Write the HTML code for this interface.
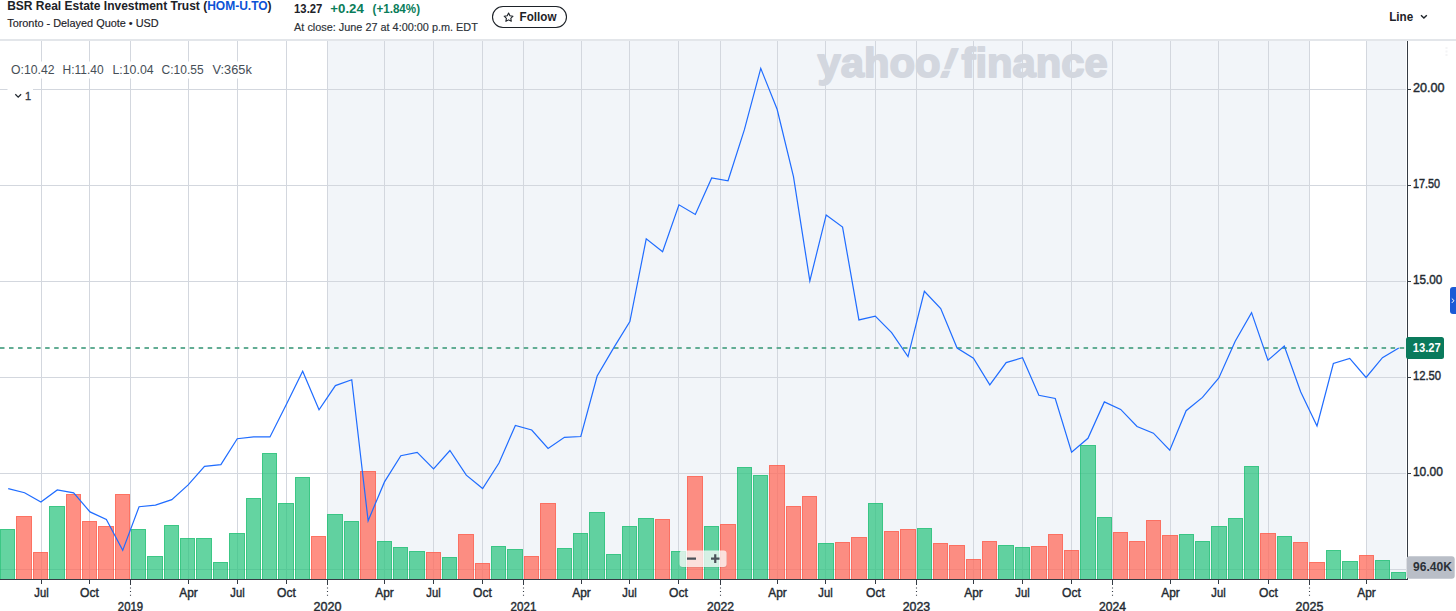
<!DOCTYPE html>
<html><head><meta charset="utf-8"><title>BSR Real Estate Investment Trust (HOM-U.TO)</title>
<style>
html,body{margin:0;padding:0;background:#fff}
body{width:1456px;height:611px;position:relative;overflow:hidden}
svg{position:absolute;left:0;top:0;display:block}
</style></head><body>
<svg width="1456" height="611" viewBox="0 0 1456 611" font-family="'Liberation Sans', Arial, sans-serif">
<text x="7.2" y="9.9" font-size="12" font-weight="700" fill="#1d2228" textLength="264.4" lengthAdjust="spacingAndGlyphs">BSR Real Estate Investment Trust (<tspan fill="#0b53d6">HOM-U.TO</tspan>)</text>
<text x="7.2" y="27" font-size="11" fill="#1d2228" textLength="151.5" lengthAdjust="spacingAndGlyphs" stroke="#1d2228" stroke-width="0.15">Toronto - Delayed Quote • USD</text>
<text x="294.1" y="12.9" font-size="12" font-weight="700" fill="#1d2228" textLength="28.2" lengthAdjust="spacingAndGlyphs">13.27</text>
<text x="330.3" y="13.3" font-size="12" font-weight="700" fill="#0a7d5a" textLength="33.5" lengthAdjust="spacingAndGlyphs">+0.24</text>
<text x="372.6" y="13.3" font-size="12" font-weight="700" fill="#0a7d5a" textLength="47.4" lengthAdjust="spacingAndGlyphs">(+1.84%)</text>
<text x="294.1" y="30.7" font-size="11" fill="#2b3137" textLength="183.7" lengthAdjust="spacingAndGlyphs" stroke="#2b3137" stroke-width="0.15">At close: June 27 at 4:00:00 p.m. EDT</text>
<rect x="492.5" y="6.5" width="74" height="21" rx="10.5" fill="#fff" stroke="#1d2228" stroke-width="1.1"/>
<path d="M508.6 13l1.35 2.75 3.05.42-2.2 2.12.52 3.02-2.72-1.44-2.72 1.44.52-3.02-2.2-2.12 3.05-.42z" fill="none" stroke="#1d2228" stroke-width="1.1" stroke-linejoin="round"/>
<text x="519.6" y="20.7" font-size="12" font-weight="700" fill="#1d2228" textLength="36.9" lengthAdjust="spacingAndGlyphs">Follow</text>
<text x="1389.2" y="20.6" font-size="12.3" font-weight="700" fill="#1d2228" textLength="24" lengthAdjust="spacingAndGlyphs">Line</text>
<path d="M1421 15.2l2.9 2.9 2.9-2.9" fill="none" stroke="#1d2228" stroke-width="1.4"/>
<rect x="0" y="39" width="1456" height="2" fill="#e3e6ea"/>
<rect x="328" y="41" width="981" height="538" fill="#f2f5f9"/>
<rect x="1367" y="41" width="39" height="538" fill="#f2f5f9"/>
<text x="817.6" y="77.3" font-size="40" font-weight="700" fill="#d3d7df" stroke="#d3d7df" stroke-width="1.8" stroke-linejoin="round" textLength="123" lengthAdjust="spacingAndGlyphs">yahoo</text>
<text x="0" y="0" font-size="41" font-weight="700" fill="#d3d7df" stroke="#d3d7df" stroke-width="1.8" stroke-linejoin="round" transform="translate(937.2 77.3) skewX(-21)">!</text>
<text x="961.6" y="77.3" font-size="40" font-weight="700" fill="#d3d7df" stroke="#d3d7df" stroke-width="1.8" stroke-linejoin="round" textLength="146" lengthAdjust="spacingAndGlyphs">finance</text>
<path d="M0 89.5H1406 M0 185.5H1406 M0 281.5H1406 M0 377.5H1406 M0 473.5H1406 M0 569.5H1406 M41.5 41V579 M89.5 41V579 M130.5 41V579 M188.5 41V579 M237.5 41V579 M286.5 41V579 M327.5 41V579 M384.5 41V579 M433.5 41V579 M482.5 41V579 M523.5 41V579 M581.5 41V579 M629.5 41V579 M678.5 41V579 M720.5 41V579 M777.5 41V579 M825.5 41V579 M875.5 41V579 M916.5 41V579 M973.5 41V579 M1022.5 41V579 M1071.5 41V579 M1112.5 41V579 M1170.5 41V579 M1218.5 41V579 M1268.5 41V579 M1309.5 41V579 M1366.5 41V579" stroke="#d3d7de" stroke-width="1" fill="none"/>
<rect x="0" y="529" width="15" height="50" fill="rgba(40,195,125,0.72)"/>
<path d="M0.5 579V529.5H14.5V579" fill="none" stroke="rgba(20,185,105,0.5)" stroke-width="1"/>
<rect x="16" y="516" width="16" height="63" fill="rgba(255,105,90,0.75)"/>
<path d="M16.5 579V516.5H31.5V579" fill="none" stroke="rgba(250,70,50,0.4)" stroke-width="1"/>
<rect x="33" y="552" width="15" height="27" fill="rgba(255,105,90,0.75)"/>
<path d="M33.5 579V552.5H47.5V579" fill="none" stroke="rgba(250,70,50,0.4)" stroke-width="1"/>
<rect x="49" y="506" width="16" height="73" fill="rgba(40,195,125,0.72)"/>
<path d="M49.5 579V506.5H64.5V579" fill="none" stroke="rgba(20,185,105,0.5)" stroke-width="1"/>
<rect x="66" y="494" width="15" height="85" fill="rgba(255,105,90,0.75)"/>
<path d="M66.5 579V494.5H80.5V579" fill="none" stroke="rgba(250,70,50,0.4)" stroke-width="1"/>
<rect x="82" y="521" width="15" height="58" fill="rgba(255,105,90,0.75)"/>
<path d="M82.5 579V521.5H96.5V579" fill="none" stroke="rgba(250,70,50,0.4)" stroke-width="1"/>
<rect x="98" y="526" width="16" height="53" fill="rgba(255,105,90,0.75)"/>
<path d="M98.5 579V526.5H113.5V579" fill="none" stroke="rgba(250,70,50,0.4)" stroke-width="1"/>
<rect x="115" y="494" width="15" height="85" fill="rgba(255,105,90,0.75)"/>
<path d="M115.5 579V494.5H129.5V579" fill="none" stroke="rgba(250,70,50,0.4)" stroke-width="1"/>
<rect x="131" y="529" width="15" height="50" fill="rgba(40,195,125,0.72)"/>
<path d="M131.5 579V529.5H145.5V579" fill="none" stroke="rgba(20,185,105,0.5)" stroke-width="1"/>
<rect x="147" y="556" width="16" height="23" fill="rgba(40,195,125,0.72)"/>
<path d="M147.5 579V556.5H162.5V579" fill="none" stroke="rgba(20,185,105,0.5)" stroke-width="1"/>
<rect x="164" y="525" width="15" height="54" fill="rgba(40,195,125,0.72)"/>
<path d="M164.5 579V525.5H178.5V579" fill="none" stroke="rgba(20,185,105,0.5)" stroke-width="1"/>
<rect x="180" y="538" width="15" height="41" fill="rgba(40,195,125,0.72)"/>
<path d="M180.5 579V538.5H194.5V579" fill="none" stroke="rgba(20,185,105,0.5)" stroke-width="1"/>
<rect x="196" y="538" width="16" height="41" fill="rgba(40,195,125,0.72)"/>
<path d="M196.5 579V538.5H211.5V579" fill="none" stroke="rgba(20,185,105,0.5)" stroke-width="1"/>
<rect x="213" y="562" width="15" height="17" fill="rgba(40,195,125,0.72)"/>
<path d="M213.5 579V562.5H227.5V579" fill="none" stroke="rgba(20,185,105,0.5)" stroke-width="1"/>
<rect x="229" y="533" width="16" height="46" fill="rgba(40,195,125,0.72)"/>
<path d="M229.5 579V533.5H244.5V579" fill="none" stroke="rgba(20,185,105,0.5)" stroke-width="1"/>
<rect x="246" y="498" width="15" height="81" fill="rgba(40,195,125,0.72)"/>
<path d="M246.5 579V498.5H260.5V579" fill="none" stroke="rgba(20,185,105,0.5)" stroke-width="1"/>
<rect x="262" y="453" width="15" height="126" fill="rgba(40,195,125,0.72)"/>
<path d="M262.5 579V453.5H276.5V579" fill="none" stroke="rgba(20,185,105,0.5)" stroke-width="1"/>
<rect x="278" y="503" width="16" height="76" fill="rgba(40,195,125,0.72)"/>
<path d="M278.5 579V503.5H293.5V579" fill="none" stroke="rgba(20,185,105,0.5)" stroke-width="1"/>
<rect x="295" y="477" width="15" height="102" fill="rgba(40,195,125,0.72)"/>
<path d="M295.5 579V477.5H309.5V579" fill="none" stroke="rgba(20,185,105,0.5)" stroke-width="1"/>
<rect x="311" y="536" width="15" height="43" fill="rgba(255,105,90,0.75)"/>
<path d="M311.5 579V536.5H325.5V579" fill="none" stroke="rgba(250,70,50,0.4)" stroke-width="1"/>
<rect x="327" y="514" width="16" height="65" fill="rgba(40,195,125,0.72)"/>
<path d="M327.5 579V514.5H342.5V579" fill="none" stroke="rgba(20,185,105,0.5)" stroke-width="1"/>
<rect x="344" y="521" width="15" height="58" fill="rgba(40,195,125,0.72)"/>
<path d="M344.5 579V521.5H358.5V579" fill="none" stroke="rgba(20,185,105,0.5)" stroke-width="1"/>
<rect x="360" y="471" width="16" height="108" fill="rgba(255,105,90,0.75)"/>
<path d="M360.5 579V471.5H375.5V579" fill="none" stroke="rgba(250,70,50,0.4)" stroke-width="1"/>
<rect x="377" y="541" width="15" height="38" fill="rgba(40,195,125,0.72)"/>
<path d="M377.5 579V541.5H391.5V579" fill="none" stroke="rgba(20,185,105,0.5)" stroke-width="1"/>
<rect x="393" y="547" width="15" height="32" fill="rgba(40,195,125,0.72)"/>
<path d="M393.5 579V547.5H407.5V579" fill="none" stroke="rgba(20,185,105,0.5)" stroke-width="1"/>
<rect x="409" y="551" width="16" height="28" fill="rgba(40,195,125,0.72)"/>
<path d="M409.5 579V551.5H424.5V579" fill="none" stroke="rgba(20,185,105,0.5)" stroke-width="1"/>
<rect x="426" y="552" width="15" height="27" fill="rgba(255,105,90,0.75)"/>
<path d="M426.5 579V552.5H440.5V579" fill="none" stroke="rgba(250,70,50,0.4)" stroke-width="1"/>
<rect x="442" y="557" width="15" height="22" fill="rgba(40,195,125,0.72)"/>
<path d="M442.5 579V557.5H456.5V579" fill="none" stroke="rgba(20,185,105,0.5)" stroke-width="1"/>
<rect x="458" y="534" width="16" height="45" fill="rgba(255,105,90,0.75)"/>
<path d="M458.5 579V534.5H473.5V579" fill="none" stroke="rgba(250,70,50,0.4)" stroke-width="1"/>
<rect x="475" y="563" width="15" height="16" fill="rgba(255,105,90,0.75)"/>
<path d="M475.5 579V563.5H489.5V579" fill="none" stroke="rgba(250,70,50,0.4)" stroke-width="1"/>
<rect x="491" y="546" width="15" height="33" fill="rgba(40,195,125,0.72)"/>
<path d="M491.5 579V546.5H505.5V579" fill="none" stroke="rgba(20,185,105,0.5)" stroke-width="1"/>
<rect x="507" y="549" width="16" height="30" fill="rgba(40,195,125,0.72)"/>
<path d="M507.5 579V549.5H522.5V579" fill="none" stroke="rgba(20,185,105,0.5)" stroke-width="1"/>
<rect x="524" y="556" width="15" height="23" fill="rgba(255,105,90,0.75)"/>
<path d="M524.5 579V556.5H538.5V579" fill="none" stroke="rgba(250,70,50,0.4)" stroke-width="1"/>
<rect x="540" y="503" width="16" height="76" fill="rgba(255,105,90,0.75)"/>
<path d="M540.5 579V503.5H555.5V579" fill="none" stroke="rgba(250,70,50,0.4)" stroke-width="1"/>
<rect x="557" y="548" width="15" height="31" fill="rgba(40,195,125,0.72)"/>
<path d="M557.5 579V548.5H571.5V579" fill="none" stroke="rgba(20,185,105,0.5)" stroke-width="1"/>
<rect x="573" y="533" width="15" height="46" fill="rgba(40,195,125,0.72)"/>
<path d="M573.5 579V533.5H587.5V579" fill="none" stroke="rgba(20,185,105,0.5)" stroke-width="1"/>
<rect x="589" y="512" width="16" height="67" fill="rgba(40,195,125,0.72)"/>
<path d="M589.5 579V512.5H604.5V579" fill="none" stroke="rgba(20,185,105,0.5)" stroke-width="1"/>
<rect x="606" y="554" width="15" height="25" fill="rgba(40,195,125,0.72)"/>
<path d="M606.5 579V554.5H620.5V579" fill="none" stroke="rgba(20,185,105,0.5)" stroke-width="1"/>
<rect x="622" y="526" width="15" height="53" fill="rgba(40,195,125,0.72)"/>
<path d="M622.5 579V526.5H636.5V579" fill="none" stroke="rgba(20,185,105,0.5)" stroke-width="1"/>
<rect x="638" y="518" width="16" height="61" fill="rgba(40,195,125,0.72)"/>
<path d="M638.5 579V518.5H653.5V579" fill="none" stroke="rgba(20,185,105,0.5)" stroke-width="1"/>
<rect x="655" y="519" width="15" height="60" fill="rgba(255,105,90,0.75)"/>
<path d="M655.5 579V519.5H669.5V579" fill="none" stroke="rgba(250,70,50,0.4)" stroke-width="1"/>
<rect x="671" y="551" width="15" height="28" fill="rgba(40,195,125,0.72)"/>
<path d="M671.5 579V551.5H685.5V579" fill="none" stroke="rgba(20,185,105,0.5)" stroke-width="1"/>
<rect x="687" y="476" width="16" height="103" fill="rgba(255,105,90,0.75)"/>
<path d="M687.5 579V476.5H702.5V579" fill="none" stroke="rgba(250,70,50,0.4)" stroke-width="1"/>
<rect x="704" y="526" width="15" height="53" fill="rgba(40,195,125,0.72)"/>
<path d="M704.5 579V526.5H718.5V579" fill="none" stroke="rgba(20,185,105,0.5)" stroke-width="1"/>
<rect x="720" y="524" width="16" height="55" fill="rgba(255,105,90,0.75)"/>
<path d="M720.5 579V524.5H735.5V579" fill="none" stroke="rgba(250,70,50,0.4)" stroke-width="1"/>
<rect x="737" y="467" width="15" height="112" fill="rgba(40,195,125,0.72)"/>
<path d="M737.5 579V467.5H751.5V579" fill="none" stroke="rgba(20,185,105,0.5)" stroke-width="1"/>
<rect x="753" y="475" width="15" height="104" fill="rgba(40,195,125,0.72)"/>
<path d="M753.5 579V475.5H767.5V579" fill="none" stroke="rgba(20,185,105,0.5)" stroke-width="1"/>
<rect x="769" y="465" width="16" height="114" fill="rgba(255,105,90,0.75)"/>
<path d="M769.5 579V465.5H784.5V579" fill="none" stroke="rgba(250,70,50,0.4)" stroke-width="1"/>
<rect x="786" y="506" width="15" height="73" fill="rgba(255,105,90,0.75)"/>
<path d="M786.5 579V506.5H800.5V579" fill="none" stroke="rgba(250,70,50,0.4)" stroke-width="1"/>
<rect x="802" y="496" width="15" height="83" fill="rgba(255,105,90,0.75)"/>
<path d="M802.5 579V496.5H816.5V579" fill="none" stroke="rgba(250,70,50,0.4)" stroke-width="1"/>
<rect x="818" y="543" width="16" height="36" fill="rgba(40,195,125,0.72)"/>
<path d="M818.5 579V543.5H833.5V579" fill="none" stroke="rgba(20,185,105,0.5)" stroke-width="1"/>
<rect x="835" y="542" width="15" height="37" fill="rgba(255,105,90,0.75)"/>
<path d="M835.5 579V542.5H849.5V579" fill="none" stroke="rgba(250,70,50,0.4)" stroke-width="1"/>
<rect x="851" y="537" width="16" height="42" fill="rgba(255,105,90,0.75)"/>
<path d="M851.5 579V537.5H866.5V579" fill="none" stroke="rgba(250,70,50,0.4)" stroke-width="1"/>
<rect x="868" y="503" width="15" height="76" fill="rgba(40,195,125,0.72)"/>
<path d="M868.5 579V503.5H882.5V579" fill="none" stroke="rgba(20,185,105,0.5)" stroke-width="1"/>
<rect x="884" y="531" width="15" height="48" fill="rgba(255,105,90,0.75)"/>
<path d="M884.5 579V531.5H898.5V579" fill="none" stroke="rgba(250,70,50,0.4)" stroke-width="1"/>
<rect x="900" y="529" width="16" height="50" fill="rgba(255,105,90,0.75)"/>
<path d="M900.5 579V529.5H915.5V579" fill="none" stroke="rgba(250,70,50,0.4)" stroke-width="1"/>
<rect x="917" y="528" width="15" height="51" fill="rgba(40,195,125,0.72)"/>
<path d="M917.5 579V528.5H931.5V579" fill="none" stroke="rgba(20,185,105,0.5)" stroke-width="1"/>
<rect x="933" y="543" width="15" height="36" fill="rgba(255,105,90,0.75)"/>
<path d="M933.5 579V543.5H947.5V579" fill="none" stroke="rgba(250,70,50,0.4)" stroke-width="1"/>
<rect x="949" y="545" width="16" height="34" fill="rgba(255,105,90,0.75)"/>
<path d="M949.5 579V545.5H964.5V579" fill="none" stroke="rgba(250,70,50,0.4)" stroke-width="1"/>
<rect x="966" y="559" width="15" height="20" fill="rgba(255,105,90,0.75)"/>
<path d="M966.5 579V559.5H980.5V579" fill="none" stroke="rgba(250,70,50,0.4)" stroke-width="1"/>
<rect x="982" y="541" width="15" height="38" fill="rgba(255,105,90,0.75)"/>
<path d="M982.5 579V541.5H996.5V579" fill="none" stroke="rgba(250,70,50,0.4)" stroke-width="1"/>
<rect x="998" y="545" width="16" height="34" fill="rgba(40,195,125,0.72)"/>
<path d="M998.5 579V545.5H1013.5V579" fill="none" stroke="rgba(20,185,105,0.5)" stroke-width="1"/>
<rect x="1015" y="547" width="15" height="32" fill="rgba(40,195,125,0.72)"/>
<path d="M1015.5 579V547.5H1029.5V579" fill="none" stroke="rgba(20,185,105,0.5)" stroke-width="1"/>
<rect x="1031" y="546" width="16" height="33" fill="rgba(255,105,90,0.75)"/>
<path d="M1031.5 579V546.5H1046.5V579" fill="none" stroke="rgba(250,70,50,0.4)" stroke-width="1"/>
<rect x="1048" y="534" width="15" height="45" fill="rgba(255,105,90,0.75)"/>
<path d="M1048.5 579V534.5H1062.5V579" fill="none" stroke="rgba(250,70,50,0.4)" stroke-width="1"/>
<rect x="1064" y="550" width="15" height="29" fill="rgba(255,105,90,0.75)"/>
<path d="M1064.5 579V550.5H1078.5V579" fill="none" stroke="rgba(250,70,50,0.4)" stroke-width="1"/>
<rect x="1080" y="445" width="16" height="134" fill="rgba(40,195,125,0.72)"/>
<path d="M1080.5 579V445.5H1095.5V579" fill="none" stroke="rgba(20,185,105,0.5)" stroke-width="1"/>
<rect x="1097" y="517" width="15" height="62" fill="rgba(40,195,125,0.72)"/>
<path d="M1097.5 579V517.5H1111.5V579" fill="none" stroke="rgba(20,185,105,0.5)" stroke-width="1"/>
<rect x="1113" y="532" width="15" height="47" fill="rgba(255,105,90,0.75)"/>
<path d="M1113.5 579V532.5H1127.5V579" fill="none" stroke="rgba(250,70,50,0.4)" stroke-width="1"/>
<rect x="1129" y="541" width="16" height="38" fill="rgba(255,105,90,0.75)"/>
<path d="M1129.5 579V541.5H1144.5V579" fill="none" stroke="rgba(250,70,50,0.4)" stroke-width="1"/>
<rect x="1146" y="520" width="15" height="59" fill="rgba(255,105,90,0.75)"/>
<path d="M1146.5 579V520.5H1160.5V579" fill="none" stroke="rgba(250,70,50,0.4)" stroke-width="1"/>
<rect x="1162" y="535" width="16" height="44" fill="rgba(255,105,90,0.75)"/>
<path d="M1162.5 579V535.5H1177.5V579" fill="none" stroke="rgba(250,70,50,0.4)" stroke-width="1"/>
<rect x="1179" y="534" width="15" height="45" fill="rgba(40,195,125,0.72)"/>
<path d="M1179.5 579V534.5H1193.5V579" fill="none" stroke="rgba(20,185,105,0.5)" stroke-width="1"/>
<rect x="1195" y="541" width="15" height="38" fill="rgba(40,195,125,0.72)"/>
<path d="M1195.5 579V541.5H1209.5V579" fill="none" stroke="rgba(20,185,105,0.5)" stroke-width="1"/>
<rect x="1211" y="526" width="16" height="53" fill="rgba(40,195,125,0.72)"/>
<path d="M1211.5 579V526.5H1226.5V579" fill="none" stroke="rgba(20,185,105,0.5)" stroke-width="1"/>
<rect x="1228" y="518" width="15" height="61" fill="rgba(40,195,125,0.72)"/>
<path d="M1228.5 579V518.5H1242.5V579" fill="none" stroke="rgba(20,185,105,0.5)" stroke-width="1"/>
<rect x="1244" y="466" width="15" height="113" fill="rgba(40,195,125,0.72)"/>
<path d="M1244.5 579V466.5H1258.5V579" fill="none" stroke="rgba(20,185,105,0.5)" stroke-width="1"/>
<rect x="1260" y="533" width="16" height="46" fill="rgba(255,105,90,0.75)"/>
<path d="M1260.5 579V533.5H1275.5V579" fill="none" stroke="rgba(250,70,50,0.4)" stroke-width="1"/>
<rect x="1277" y="536" width="15" height="43" fill="rgba(40,195,125,0.72)"/>
<path d="M1277.5 579V536.5H1291.5V579" fill="none" stroke="rgba(20,185,105,0.5)" stroke-width="1"/>
<rect x="1293" y="542" width="15" height="37" fill="rgba(255,105,90,0.75)"/>
<path d="M1293.5 579V542.5H1307.5V579" fill="none" stroke="rgba(250,70,50,0.4)" stroke-width="1"/>
<rect x="1309" y="562" width="16" height="17" fill="rgba(255,105,90,0.75)"/>
<path d="M1309.5 579V562.5H1324.5V579" fill="none" stroke="rgba(250,70,50,0.4)" stroke-width="1"/>
<rect x="1326" y="550" width="15" height="29" fill="rgba(40,195,125,0.72)"/>
<path d="M1326.5 579V550.5H1340.5V579" fill="none" stroke="rgba(20,185,105,0.5)" stroke-width="1"/>
<rect x="1342" y="561" width="16" height="18" fill="rgba(40,195,125,0.72)"/>
<path d="M1342.5 579V561.5H1357.5V579" fill="none" stroke="rgba(20,185,105,0.5)" stroke-width="1"/>
<rect x="1359" y="555" width="15" height="24" fill="rgba(255,105,90,0.75)"/>
<path d="M1359.5 579V555.5H1373.5V579" fill="none" stroke="rgba(250,70,50,0.4)" stroke-width="1"/>
<rect x="1375" y="560" width="15" height="19" fill="rgba(40,195,125,0.72)"/>
<path d="M1375.5 579V560.5H1389.5V579" fill="none" stroke="rgba(20,185,105,0.5)" stroke-width="1"/>
<rect x="1391" y="572" width="15" height="7" fill="rgba(40,195,125,0.72)"/>
<path d="M1391.5 579V572.5H1405.5V579" fill="none" stroke="rgba(20,185,105,0.5)" stroke-width="1"/>
<path d="M0 348H1405" stroke="#62ad94" stroke-width="2" stroke-dasharray="4.5 4.53" fill="none"/>
<polyline points="8.20,488.6 24.56,492.7 40.92,502.1 57.28,489.9 73.64,492.9 90.00,511.9 106.36,519.5 122.72,550.4 139.08,506.7 155.44,505.1 171.80,499.6 188.16,484.9 204.52,466.4 220.88,464.6 237.24,438.7 253.60,436.9 269.96,436.9 286.32,404.5 302.68,371.2 319.04,409.8 335.40,385.6 351.76,379.7 368.12,520.8 384.48,481.9 400.84,455.7 417.20,452.4 433.56,468.8 449.92,450.5 466.28,475.2 482.64,488.5 499.00,463 515.36,425.4 531.72,430 548.08,448.5 564.44,437.3 580.80,436.5 597.16,376 613.52,348.1 629.88,321.6 646.24,238.8 662.60,251.7 678.96,204.8 695.32,214.4 711.68,177.9 728.04,180.8 744.40,129.7 760.76,68.4 777.12,109.3 793.48,176.7 809.84,280.9 826.20,214.9 842.56,227.1 858.92,319.9 875.28,316.1 891.64,332.6 908.00,356.6 924.36,291.3 940.72,308.5 957.08,348 973.44,358.3 989.80,384.9 1006.16,362.6 1022.52,357.7 1038.88,395.3 1055.24,398.5 1071.60,452.1 1087.96,438.3 1104.32,401.9 1120.68,409.4 1137.04,426.5 1153.40,433.2 1169.76,450.2 1186.12,410.7 1202.48,397.4 1218.84,377.9 1235.20,341.2 1251.56,312.6 1267.92,360.3 1284.28,346.1 1300.64,391.7 1317.00,426 1333.36,363.5 1349.72,358.4 1366.08,377.5 1382.44,357.7 1398.80,348.1" fill="none" stroke="#1f6cff" stroke-width="1.2" stroke-linejoin="miter" stroke-miterlimit="6"/>
<rect x="6" y="61.5" width="251" height="17" fill="#fff"/>
<text x="11.1" y="74.2" font-size="12" fill="#464e56" textLength="43.4" lengthAdjust="spacingAndGlyphs">O:10.42</text>
<text x="62.5" y="74.2" font-size="12" fill="#464e56" textLength="41.1" lengthAdjust="spacingAndGlyphs">H:11.40</text>
<text x="112.5" y="74.2" font-size="12" fill="#464e56" textLength="41.1" lengthAdjust="spacingAndGlyphs">L:10.04</text>
<text x="161.6" y="74.2" font-size="12" fill="#464e56" textLength="42.0" lengthAdjust="spacingAndGlyphs">C:10.55</text>
<text x="212.5" y="74.2" font-size="12" fill="#464e56" textLength="39.3" lengthAdjust="spacingAndGlyphs">V:365k</text>
<rect x="7.5" y="83" width="25.5" height="17" fill="#fff"/>
<path d="M15.3 94.3l2.9 2.9 2.9-2.9" fill="none" stroke="#232a31" stroke-width="1.3"/>
<text x="24.9" y="99.7" font-size="11" fill="#30373e" stroke="#30373e" stroke-width="0.3">1</text>
<path d="M1407.5 41V580M0 579.5H1408" stroke="#343b44" stroke-width="1" fill="none"/>
<path d="M1408 89.5H1411" stroke="#343b44" stroke-width="1"/>
<text x="1412.9" y="92.1" font-size="12" fill="#232a31" textLength="31.6" lengthAdjust="spacingAndGlyphs" stroke="#232a31" stroke-width="0.4">20.00</text>
<path d="M1408 185.5H1411" stroke="#343b44" stroke-width="1"/>
<text x="1412.9" y="188.1" font-size="12" fill="#232a31" textLength="27.1" lengthAdjust="spacingAndGlyphs" stroke="#232a31" stroke-width="0.4">17.50</text>
<path d="M1408 281.5H1411" stroke="#343b44" stroke-width="1"/>
<text x="1412.9" y="284.1" font-size="12" fill="#232a31" textLength="29.4" lengthAdjust="spacingAndGlyphs" stroke="#232a31" stroke-width="0.4">15.00</text>
<path d="M1408 377.5H1411" stroke="#343b44" stroke-width="1"/>
<text x="1412.9" y="380.1" font-size="12" fill="#232a31" textLength="28.2" lengthAdjust="spacingAndGlyphs" stroke="#232a31" stroke-width="0.4">12.50</text>
<path d="M1408 473.5H1411" stroke="#343b44" stroke-width="1"/>
<text x="1412.9" y="476.1" font-size="12" fill="#232a31" textLength="30.1" lengthAdjust="spacingAndGlyphs" stroke="#232a31" stroke-width="0.4">10.00</text>
<path d="M41.5 580V584" stroke="#343b44" stroke-width="1"/>
<text x="41.5" y="596.7" font-size="12" fill="#232a31" text-anchor="middle" textLength="14.3" lengthAdjust="spacingAndGlyphs" stroke="#232a31" stroke-width="0.4">Jul</text>
<path d="M89.5 580V584" stroke="#343b44" stroke-width="1"/>
<text x="89.5" y="596.7" font-size="12" fill="#232a31" text-anchor="middle" textLength="18.8" lengthAdjust="spacingAndGlyphs" stroke="#232a31" stroke-width="0.4">Oct</text>
<path d="M130.5 580V585" stroke="#343b44" stroke-width="1"/>
<path d="M130.5 587.5V596" stroke="#343b44" stroke-width="1.1" stroke-dasharray="1 2.6"/>
<text x="130.5" y="610.8" font-size="12" fill="#232a31" text-anchor="middle" textLength="25.3" lengthAdjust="spacingAndGlyphs" stroke="#232a31" stroke-width="0.4">2019</text>
<path d="M188.5 580V584" stroke="#343b44" stroke-width="1"/>
<text x="188.5" y="596.7" font-size="12" fill="#232a31" text-anchor="middle" textLength="18.5" lengthAdjust="spacingAndGlyphs" stroke="#232a31" stroke-width="0.4">Apr</text>
<path d="M237.5 580V584" stroke="#343b44" stroke-width="1"/>
<text x="237.5" y="596.7" font-size="12" fill="#232a31" text-anchor="middle" textLength="14.3" lengthAdjust="spacingAndGlyphs" stroke="#232a31" stroke-width="0.4">Jul</text>
<path d="M286.5 580V584" stroke="#343b44" stroke-width="1"/>
<text x="286.5" y="596.7" font-size="12" fill="#232a31" text-anchor="middle" textLength="18.8" lengthAdjust="spacingAndGlyphs" stroke="#232a31" stroke-width="0.4">Oct</text>
<path d="M327.5 580V585" stroke="#343b44" stroke-width="1"/>
<path d="M327.5 587.5V596" stroke="#343b44" stroke-width="1.1" stroke-dasharray="1 2.6"/>
<text x="327.5" y="610.8" font-size="12" fill="#232a31" text-anchor="middle" textLength="28.0" lengthAdjust="spacingAndGlyphs" stroke="#232a31" stroke-width="0.4">2020</text>
<path d="M384.5 580V584" stroke="#343b44" stroke-width="1"/>
<text x="384.5" y="596.7" font-size="12" fill="#232a31" text-anchor="middle" textLength="18.5" lengthAdjust="spacingAndGlyphs" stroke="#232a31" stroke-width="0.4">Apr</text>
<path d="M433.5 580V584" stroke="#343b44" stroke-width="1"/>
<text x="433.5" y="596.7" font-size="12" fill="#232a31" text-anchor="middle" textLength="14.3" lengthAdjust="spacingAndGlyphs" stroke="#232a31" stroke-width="0.4">Jul</text>
<path d="M482.5 580V584" stroke="#343b44" stroke-width="1"/>
<text x="482.5" y="596.7" font-size="12" fill="#232a31" text-anchor="middle" textLength="18.8" lengthAdjust="spacingAndGlyphs" stroke="#232a31" stroke-width="0.4">Oct</text>
<path d="M523.5 580V585" stroke="#343b44" stroke-width="1"/>
<path d="M523.5 587.5V596" stroke="#343b44" stroke-width="1.1" stroke-dasharray="1 2.6"/>
<text x="523.5" y="610.8" font-size="12" fill="#232a31" text-anchor="middle" textLength="25.8" lengthAdjust="spacingAndGlyphs" stroke="#232a31" stroke-width="0.4">2021</text>
<path d="M581.5 580V584" stroke="#343b44" stroke-width="1"/>
<text x="581.5" y="596.7" font-size="12" fill="#232a31" text-anchor="middle" textLength="18.5" lengthAdjust="spacingAndGlyphs" stroke="#232a31" stroke-width="0.4">Apr</text>
<path d="M629.5 580V584" stroke="#343b44" stroke-width="1"/>
<text x="629.5" y="596.7" font-size="12" fill="#232a31" text-anchor="middle" textLength="14.3" lengthAdjust="spacingAndGlyphs" stroke="#232a31" stroke-width="0.4">Jul</text>
<path d="M678.5 580V584" stroke="#343b44" stroke-width="1"/>
<text x="678.5" y="596.7" font-size="12" fill="#232a31" text-anchor="middle" textLength="18.8" lengthAdjust="spacingAndGlyphs" stroke="#232a31" stroke-width="0.4">Oct</text>
<path d="M720.5 580V585" stroke="#343b44" stroke-width="1"/>
<path d="M720.5 587.5V596" stroke="#343b44" stroke-width="1.1" stroke-dasharray="1 2.6"/>
<text x="720.5" y="610.8" font-size="12" fill="#232a31" text-anchor="middle" textLength="27.0" lengthAdjust="spacingAndGlyphs" stroke="#232a31" stroke-width="0.4">2022</text>
<path d="M777.5 580V584" stroke="#343b44" stroke-width="1"/>
<text x="777.5" y="596.7" font-size="12" fill="#232a31" text-anchor="middle" textLength="18.5" lengthAdjust="spacingAndGlyphs" stroke="#232a31" stroke-width="0.4">Apr</text>
<path d="M825.5 580V584" stroke="#343b44" stroke-width="1"/>
<text x="825.5" y="596.7" font-size="12" fill="#232a31" text-anchor="middle" textLength="14.3" lengthAdjust="spacingAndGlyphs" stroke="#232a31" stroke-width="0.4">Jul</text>
<path d="M875.5 580V584" stroke="#343b44" stroke-width="1"/>
<text x="875.5" y="596.7" font-size="12" fill="#232a31" text-anchor="middle" textLength="18.8" lengthAdjust="spacingAndGlyphs" stroke="#232a31" stroke-width="0.4">Oct</text>
<path d="M916.5 580V585" stroke="#343b44" stroke-width="1"/>
<path d="M916.5 587.5V596" stroke="#343b44" stroke-width="1.1" stroke-dasharray="1 2.6"/>
<text x="916.5" y="610.8" font-size="12" fill="#232a31" text-anchor="middle" textLength="27.5" lengthAdjust="spacingAndGlyphs" stroke="#232a31" stroke-width="0.4">2023</text>
<path d="M973.5 580V584" stroke="#343b44" stroke-width="1"/>
<text x="973.5" y="596.7" font-size="12" fill="#232a31" text-anchor="middle" textLength="18.5" lengthAdjust="spacingAndGlyphs" stroke="#232a31" stroke-width="0.4">Apr</text>
<path d="M1022.5 580V584" stroke="#343b44" stroke-width="1"/>
<text x="1022.5" y="596.7" font-size="12" fill="#232a31" text-anchor="middle" textLength="14.3" lengthAdjust="spacingAndGlyphs" stroke="#232a31" stroke-width="0.4">Jul</text>
<path d="M1071.5 580V584" stroke="#343b44" stroke-width="1"/>
<text x="1071.5" y="596.7" font-size="12" fill="#232a31" text-anchor="middle" textLength="18.8" lengthAdjust="spacingAndGlyphs" stroke="#232a31" stroke-width="0.4">Oct</text>
<path d="M1112.5 580V585" stroke="#343b44" stroke-width="1"/>
<path d="M1112.5 587.5V596" stroke="#343b44" stroke-width="1.1" stroke-dasharray="1 2.6"/>
<text x="1112.5" y="610.8" font-size="12" fill="#232a31" text-anchor="middle" textLength="27.0" lengthAdjust="spacingAndGlyphs" stroke="#232a31" stroke-width="0.4">2024</text>
<path d="M1170.5 580V584" stroke="#343b44" stroke-width="1"/>
<text x="1170.5" y="596.7" font-size="12" fill="#232a31" text-anchor="middle" textLength="18.5" lengthAdjust="spacingAndGlyphs" stroke="#232a31" stroke-width="0.4">Apr</text>
<path d="M1218.5 580V584" stroke="#343b44" stroke-width="1"/>
<text x="1218.5" y="596.7" font-size="12" fill="#232a31" text-anchor="middle" textLength="14.3" lengthAdjust="spacingAndGlyphs" stroke="#232a31" stroke-width="0.4">Jul</text>
<path d="M1268.5 580V584" stroke="#343b44" stroke-width="1"/>
<text x="1268.5" y="596.7" font-size="12" fill="#232a31" text-anchor="middle" textLength="18.8" lengthAdjust="spacingAndGlyphs" stroke="#232a31" stroke-width="0.4">Oct</text>
<path d="M1309.5 580V585" stroke="#343b44" stroke-width="1"/>
<path d="M1309.5 587.5V596" stroke="#343b44" stroke-width="1.1" stroke-dasharray="1 2.6"/>
<text x="1309.5" y="610.8" font-size="12" fill="#232a31" text-anchor="middle" textLength="27.8" lengthAdjust="spacingAndGlyphs" stroke="#232a31" stroke-width="0.4">2025</text>
<path d="M1366.5 580V584" stroke="#343b44" stroke-width="1"/>
<text x="1366.5" y="596.7" font-size="12" fill="#232a31" text-anchor="middle" textLength="18.5" lengthAdjust="spacingAndGlyphs" stroke="#232a31" stroke-width="0.4">Apr</text>
<rect x="1406" y="337" width="38" height="22" rx="2.5" fill="#0a7a5c"/>
<text x="1412.7" y="351.6" font-size="12" font-weight="700" fill="#fff" textLength="28.0" lengthAdjust="spacingAndGlyphs">13.27</text>
<rect x="1406.5" y="556.3" width="48.2" height="22.4" rx="3" fill="#b9bec7"/>
<text x="1413" y="571.1" font-size="12" font-weight="700" fill="#2b3138" textLength="38.9" lengthAdjust="spacingAndGlyphs">96.40K</text>
<rect x="680" y="551.4" width="47" height="16.6" rx="3" fill="#000" fill-opacity="0.06"/>
<rect x="679.6" y="550.4" width="47" height="16.6" rx="3" fill="#fff" fill-opacity="0.75"/>
<path d="M687 558.6h9M711 558.6h8.5M715.25 554.3v8.6" stroke="#4a5159" stroke-width="2.2"/>
<path d="M1456 287h-3a3 3 0 0 0-3 3v21a3 3 0 0 0 3 3h3z" fill="#1a5ad6"/>
<path d="M1451.8 298.5l2.2 2.2-2.2 2.2" fill="none" stroke="#fff" stroke-width="1"/>
<g fill="#f4f4f5"><rect x="1445.5" y="47" width="2" height="2"/><rect x="1445.5" y="50.5" width="2" height="2"/><rect x="1445.5" y="54" width="2" height="2"/></g>
</svg>
</body></html>
